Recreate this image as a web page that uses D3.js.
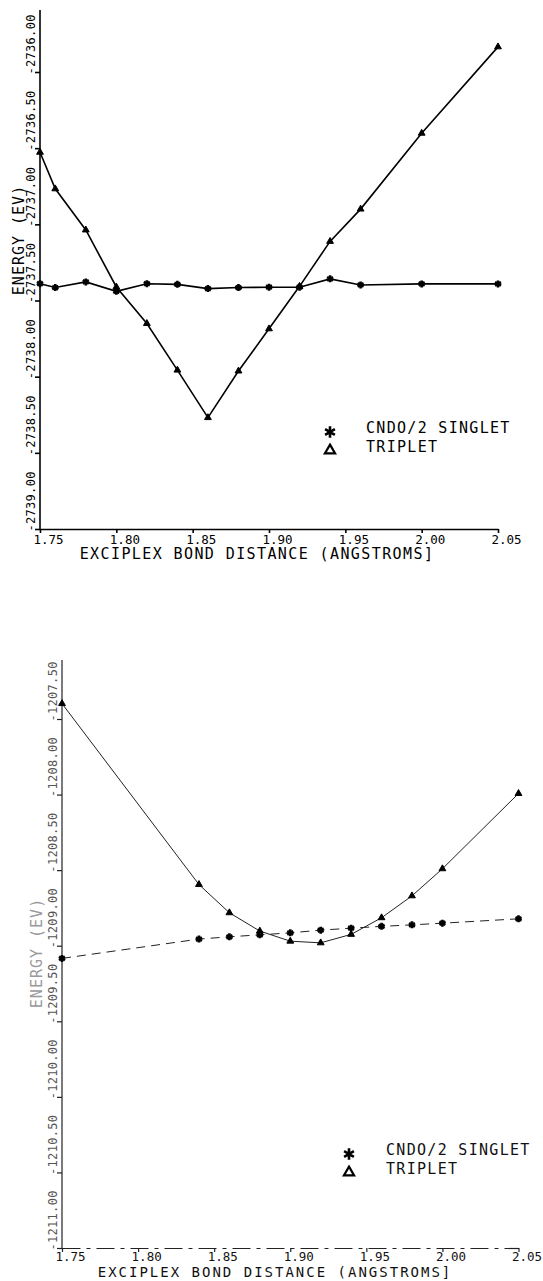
<!DOCTYPE html>
<html>
<head>
<meta charset="utf-8">
<script src="https://cdn.jsdelivr.net/npm/d3@7"></script>
<style>
body { margin: 0; background: #fff; }
text { font-family: "DejaVu Sans Mono", monospace; fill: #111; }
</style>
</head>
<body>
<svg id="chart" width="543" height="1281"></svg>
<script>
// upper plot (about -2737 eV)
let distTop = [1.75, 1.76, 1.78, 1.80, 1.82, 1.84, 1.86, 1.88, 1.90, 1.92, 1.94, 1.96, 2.00, 2.05];
let singletTop = [-2737.39, -2737.415, -2737.378, -2737.44, -2737.39, -2737.394, -2737.422, -2737.415, -2737.413, -2737.413, -2737.358, -2737.398, -2737.391, -2737.391];
let tripletTop = [-2736.527, -2736.767, -2737.037, -2737.411, -2737.651, -2737.957, -2738.269, -2737.963, -2737.686, -2737.407, -2737.112, -2736.90, -2736.402, -2735.835];
let yTicksTop = [-2739.00, -2738.50, -2738.00, -2737.50, -2737.00, -2736.50, -2736.00];

// lower plot (about -1209 eV)
let distBottom = [1.75, 1.84, 1.86, 1.88, 1.90, 1.92, 1.94, 1.96, 1.98, 2.00, 2.05];
let singletBottom = [-1209.084, -1208.956, -1208.941, -1208.928, -1208.915, -1208.897, -1208.884, -1208.872, -1208.862, -1208.851, -1208.822];
let tripletBottom = [-1207.398, -1208.595, -1208.782, -1208.903, -1208.97, -1208.981, -1208.925, -1208.815, -1208.67, -1208.491, -1207.993];
let yTicksBottom = [-1211.00, -1210.50, -1210.00, -1209.50, -1209.00, -1208.50, -1208.00, -1207.50];

let xTicks = [1.75, 1.80, 1.85, 1.90, 1.95, 2.00, 2.05];
let xTitle = 'EXCIPLEX BOND DISTANCE (ANGSTROMS]';
let yTitle = 'ENERGY (EV)';
let legendNames = ['CNDO/2 SINGLET', 'TRIPLET'];

let svg = d3.select('#chart');
let fmt = d => d.toFixed(2); // plain hyphen like the plotter, not the unicode minus

function drawPanel(p) {
    let x = d3.scaleLinear().domain([1.75, 2.05]).range([p.left, p.right]);
    let y = d3.scaleLinear().domain(p.yDomain).range([p.bottom, p.top]);
    let g = svg.append('g');

    // y axis (line runs above the last tick)
    let yAxis = g.append('g')
        .attr('transform', `translate(${p.left},0)`)
        .call(d3.axisLeft(y).tickValues(p.yTicks).tickSize(5).tickFormat(fmt));
    yAxis.select('.domain').remove();
    yAxis.selectAll('.tick line').attr('stroke', p.ink).attr('stroke-width', p.axisWidth);
    yAxis.selectAll('.tick text')
        .attr('x', null).attr('dy', null)
        .attr('text-anchor', 'start')
        .attr('transform', `translate(${p.yLabelX - p.left},2) rotate(-90)`)
        .style('font-size', '12px')
        .style('letter-spacing', '0.3px')
        .style('fill', p.yLabelInk)
        .style('font-family', '"DejaVu Sans Mono", monospace');
    g.append('line')
        .attr('x1', p.left).attr('x2', p.left)
        .attr('y1', p.axisTop).attr('y2', p.bottom)
        .attr('stroke', p.ink).attr('stroke-width', p.axisWidth);

    // x axis
    let xAxis = g.append('g')
        .attr('transform', `translate(0,${p.bottom})`)
        .call(d3.axisBottom(x).tickValues(xTicks).tickSize(4).tickSizeOuter(0).tickFormat(fmt));
    xAxis.select('.domain').attr('stroke', p.ink).attr('stroke-width', p.axisWidth)
        .attr('stroke-dasharray', p.xAxisDash);
    xAxis.selectAll('.tick line').attr('stroke', p.ink).attr('stroke-width', p.axisWidth);
    xAxis.selectAll('.tick text')
        .attr('y', p.xLabelDy).attr('dy', null)
        .attr('x', -7)
        .attr('text-anchor', 'start')
        .style('font-size', '12.5px')
        .style('fill', p.textInk)
        .style('font-family', '"DejaVu Sans Mono", monospace');

    g.append('text')
        .attr('x', p.xTitleX).attr('y', p.bottom + p.xTitleDy)
        .attr('text-anchor', 'middle')
        .style('font-size', p.xTitleSize).style('letter-spacing', p.xTitleSpacing)
        .style('fill', p.textInk)
        .text(xTitle);

    g.append('text')
        .attr('transform', `translate(${p.yTitleX},${p.yTitleY}) rotate(-90)`)
        .attr('text-anchor', 'middle')
        .style('font-size', '15px').style('letter-spacing', '1px')
        .style('fill', p.yTitleInk)
        .text(yTitle);

    // curves
    let line = d3.line().x(d => x(d[0])).y(d => y(d[1]));
    let singlet = p.dist.map((d, i) => [d, p.singlet[i]]);
    let triplet = p.dist.map((d, i) => [d, p.triplet[i]]);

    g.append('path').datum(singlet)
        .attr('d', line).attr('fill', 'none')
        .attr('stroke', p.ink).attr('stroke-width', p.lineWidth)
        .attr('stroke-dasharray', p.singletDash);
    g.append('path').datum(triplet)
        .attr('d', line).attr('fill', 'none')
        .attr('stroke', p.ink).attr('stroke-width', p.lineWidth);

    g.selectAll('.star').data(singlet).join('path')
        .attr('class', 'star')
        .attr('transform', d => `translate(${x(d[0])},${y(d[1])})`)
        .attr('d', d3.symbol(d3.symbolAsterisk, 34))
        .attr('fill', 'none').attr('stroke', '#000').attr('stroke-width', 2.6);
    g.selectAll('.tri').data(triplet).join('path')
        .attr('class', 'tri')
        .attr('transform', d => `translate(${x(d[0])},${y(d[1])})`)
        .attr('d', d3.symbol(d3.symbolTriangle, 20))
        .attr('fill', '#000').attr('stroke', '#000').attr('stroke-width', 1);

    // legend
    g.append('path')
        .attr('transform', `translate(${p.legendX},${p.legendY})`)
        .attr('d', d3.symbol(d3.symbolAsterisk, 90))
        .attr('fill', 'none').attr('stroke', '#000').attr('stroke-width', 2.6);
    g.append('path')
        .attr('transform', `translate(${p.legendX},${p.legendY + 18.5})`)
        .attr('d', d3.symbol(d3.symbolTriangle, 45))
        .attr('fill', '#fff').attr('stroke', '#000').attr('stroke-width', 2.2);
    g.selectAll('.legend').data(legendNames).join('text')
        .attr('class', 'legend')
        .attr('x', p.legendTextX)
        .attr('y', (d, i) => p.legendY + 1 + i * 18.5)
        .style('font-size', '15px').style('letter-spacing', '1.3px')
        .style('fill', p.textInk)
        .text(d => d);
}

drawPanel({
    dist: distTop, singlet: singletTop, triplet: tripletTop,
    yDomain: [-2739, -2736], yTicks: yTicksTop,
    left: 40, right: 498, top: 72, bottom: 529, axisTop: 10,
    yLabelX: 35, yTitleX: 24, yTitleY: 240,
    xLabelDy: 15, xTitleDy: 30, xTitleX: 257, xTitleSize: '15px', xTitleSpacing: '1.4px',
    legendX: 330, legendY: 432, legendTextX: 366,
    ink: '#000', textInk: '#000', yLabelInk: '#000', yTitleInk: '#000',
    axisWidth: 1.6, lineWidth: 1.6, singletDash: null, xAxisDash: null
});

drawPanel({
    dist: distBottom, singlet: singletBottom, triplet: tripletBottom,
    yDomain: [-1211, -1207.5], yTicks: yTicksBottom,
    left: 62, right: 518.5, top: 719, bottom: 1248, axisTop: 660,
    yLabelX: 57, yTitleX: 42, yTitleY: 953,
    xLabelDy: 12.5, xTitleDy: 29, xTitleX: 275, xTitleSize: '14px', xTitleSpacing: '2px',
    legendX: 349, legendY: 1154, legendTextX: 386,
    ink: '#222', textInk: '#111', yLabelInk: '#555', yTitleInk: '#999',
    axisWidth: 1.2, lineWidth: 1, singletDash: '9,6', xAxisDash: '18,6,4,6'
});
</script>
</body>
</html>
